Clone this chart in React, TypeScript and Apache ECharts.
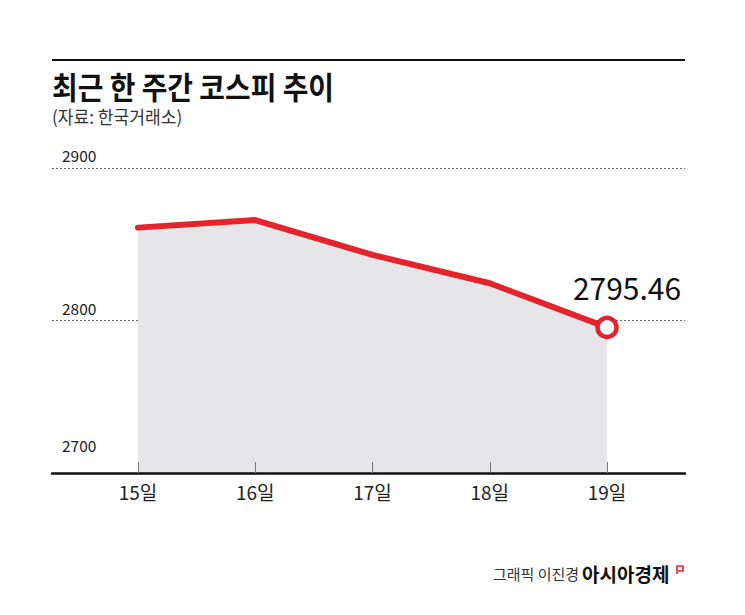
import React, { useEffect, useRef } from "react";
import * as echarts from "echarts";

const days = [15, 16, 17, 18, 19];
const kospi = [2860.9, 2865.9, 2843.0, 2824.4, 2795.46];
const yTicks = [2700, 2800, 2900];
const title = "최근 한 주간 코스피 추이";
const subtitle = "(자료: 한국거래소)";
const credit = "그래픽 이진경";
const brand = "아시아경제";

const RED = "#e3242b";
const FONT = "'Noto Sans CJK KR', 'Noto Sans', sans-serif";

export default function App() {
  const ref = useRef<HTMLDivElement>(null);
  useEffect(() => {
    if (!ref.current) return;
    const chart = echarts.init(ref.current, undefined, { renderer: "svg" });
    const last = kospi.length - 1;
    const data = days.map((d, i) =>
      i === last
        ? {
            value: [d, kospi[i]],
            symbol: "circle",
            symbolSize: 19,
            itemStyle: { color: "#fff", borderColor: RED, borderWidth: 4.5 },
            label: {
              show: true,
              position: "top",
              offset: [20, -9],
              formatter: () => kospi[i].toFixed(2),
              fontFamily: FONT,
              fontSize: 30,
              color: "#111",
              fontWeight: "normal",
            },
          }
        : { value: [d, kospi[i]], symbol: "none" }
    );
    chart.setOption({
      animation: false,
      backgroundColor: "#fff",
      textStyle: { fontFamily: FONT },
      grid: { left: 52, right: 60, top: 168, bottom: 142, containLabel: false },
      xAxis: {
        type: "value",
        min: 14.267,
        max: 19.665,
        z: 10,
        axisLine: { show: true, lineStyle: { color: "#111", width: 2.5 } },
        axisTick: {
          show: true,
          inside: true,
          length: 11,
          customValues: days,
          lineStyle: { color: "#777", width: 1 },
        },
        axisLabel: {
          show: true,
          customValues: days,
          formatter: (v: number) => v + "일",
          fontFamily: FONT,
          fontSize: 19,
          color: "#222",
          margin: 9,
        },
        splitLine: { show: false },
      },
      yAxis: {
        type: "value",
        min: yTicks[0],
        max: yTicks[yTicks.length - 1],
        interval: 100,
        axisLine: { show: false },
        axisTick: { show: false },
        splitLine: { show: true, lineStyle: { color: "#666", type: [2, 2], width: 1 } },
        axisLabel: {
          inside: true,
          margin: 10,
          verticalAlign: "bottom",
          formatter: (v: number) => (v === yTicks[0] ? "{b|" + v + "}" : "{a|" + v + "}"),
          rich: {
            a: { fontFamily: FONT, fontSize: 15.5, color: "#222", padding: [0, 0, 5, 0] },
            b: { fontFamily: FONT, fontSize: 15.5, color: "#222", padding: [0, 0, 20, 0] },
          },
        },
      },
      series: [
        {
          type: "line",
          data,
          symbol: "none",
          lineStyle: { color: RED, width: 6, cap: "round", join: "round" },
          areaStyle: { color: "#e6e6e8", origin: "start", opacity: 1 },
          z: 3,
        },
      ],
      graphic: [
        {
          type: "line",
          shape: { x1: 52, y1: 60, x2: 685, y2: 60 },
          style: { stroke: "#111", lineWidth: 2 },
        },
        {
          type: "text",
          x: 52,
          y: 70,
          scaleX: 0.9,
          style: { text: title, fontFamily: FONT, fontSize: 31, fontWeight: "bold", fill: "#111" },
        },
        {
          type: "text",
          x: 52,
          y: 107,
          scaleX: 0.95,
          style: { text: subtitle, fontFamily: FONT, fontSize: 18, fill: "#333" },
        },
        {
          type: "text",
          left: 493,
          top: 566,
          style: { text: credit, fontFamily: FONT, fontSize: 15, fill: "#333" },
        },
        {
          type: "text",
          left: 582,
          top: 564,
          style: { text: brand, fontFamily: FONT, fontSize: 19, fontWeight: "bold", fill: "#111" },
        },
        {
          type: "polyline",
          shape: { points: [[677, 574], [677, 566], [683, 566], [683, 571], [678, 571]] },
          style: { stroke: RED, lineWidth: 1.6, fill: "none" },
        },
      ],
    });
    return () => chart.dispose();
  }, []);
  return (
    <div
      ref={ref}
      style={{ position: "fixed", left: 0, top: 0, width: 745, height: 615, background: "#fff" }}
    />
  );
}
